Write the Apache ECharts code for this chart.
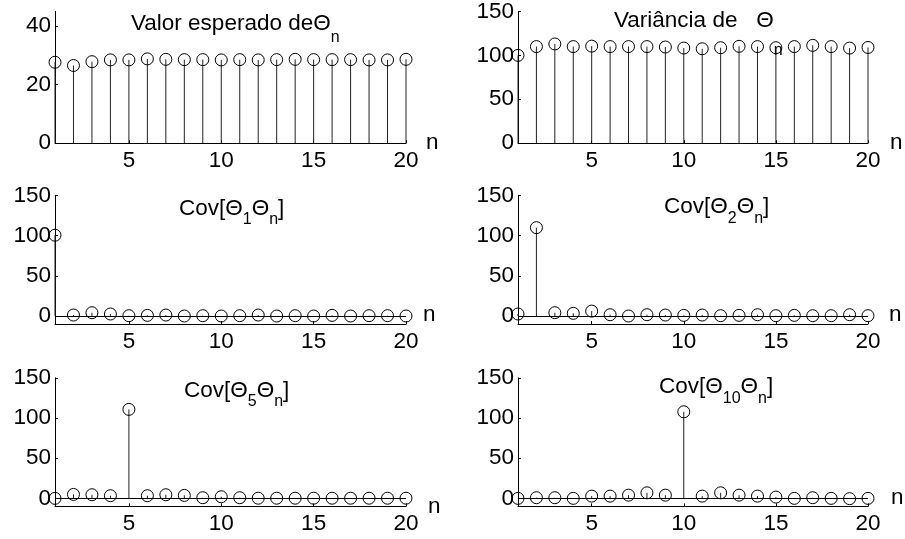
<!DOCTYPE html>
<html>
<head>
<meta charset="utf-8">
<script src="https://cdn.jsdelivr.net/npm/echarts@6/dist/echarts.min.js"></script>
<style>
  html, body { margin: 0; padding: 0; background: #fff; }
  #chart { width: 905px; height: 539px; }
</style>
</head>
<body>
<div id="chart"></div>
<script>
// Sample index n = 1..20
const nValues = [1, 2, 3, 4, 5, 6, 7, 8, 9, 10, 11, 12, 13, 14, 15, 16, 17, 18, 19, 20];
const xTicks = [5, 10, 15, 20];

// Expected value of Theta_n
const meanTheta = [27.6, 26.5, 27.8, 28.4, 28.4, 28.75, 28.6, 28.5, 28.5, 28.4,
                   28.5, 28.4, 28.5, 28.6, 28.5, 28.5, 28.5, 28.4, 28.4, 28.6];
// Variance of Theta_n
const varTheta = [100, 110, 113, 110, 110.5, 110, 110, 110, 109.5, 108.3,
                  107.5, 108.7, 110.3, 110, 108.7, 110, 111.4, 110, 108.3, 109];
// Cov[Theta_k, Theta_n] for k = 1, 2, 5, 10
const cov1 = [100.4, 1.2, 4.1, 2.5, 0.4, 0.8, 1.2, 0, 0.4, 0,
              0.4, 1.2, 0, 0.4, 0, 0.8, 0, 0.4, 0.4, 0];
const cov2 = [2.5, 109.8, 4.1, 3.3, 6.1, 1.6, 0, 1.6, 1.2, 0.8,
              1.2, 0.4, 0.8, 1.6, 0.4, 0.8, 0.4, 0.4, 1.6, 0.4];
const cov5 = [0, 4.9, 4.5, 3.3, 110.7, 3.3, 4.5, 3.7, 0.8, 2,
              0.8, 0.2, 0.2, 0.2, 0.2, 0.2, 0.2, 0.2, 0.2, 0.2];
const cov10 = [0, 0.8, 0.8, 0, 2.8, 2.8, 4, 6.9, 4, 107.7,
               2.8, 6.9, 4, 2.8, 1.6, 0, 0.8, 0, -0.4, 0];

// Y tick labels
const yTicksMean = [0, 20, 40];
const yTicksCov = [0, 50, 100, 150];

const FONT = 'Liberation Sans, Arial, Helvetica, sans-serif';
const FS = 22.5;
const SUB = 16;

const panels = [
  { data: meanTheta, yMin: 0,   yMax: 45,  yTicks: yTicksMean, grid: { left: 55,  top: 11.3,  width: 351, height: 131.8 },
    nameGap: 20, raised: false,
    title: { x: 131, y: 12.5, text: '{m|Valor esperado deΘ}{s1|n}' } },
  { data: varTheta,  yMin: 0,   yMax: 150, yTicks: yTicksCov,  grid: { left: 518, top: 11.3,  width: 350, height: 131.8 },
    nameGap: 22, raised: false,
    title: { x: 614, y: 9,    text: '{m|Variância de   Θ}{s2|n}' } },
  { data: cov1,      yMin: -10, yMax: 150, yTicks: yTicksCov,  grid: { left: 55,  top: 195.3, width: 351, height: 128.75 },
    nameGap: 17, raised: true,
    title: { x: 179, y: 197,  text: '{m|Cov[Θ}{s|1}{m|Θ}{s|n}{m|]}' } },
  { data: cov2,      yMin: -10, yMax: 150, yTicks: yTicksCov,  grid: { left: 518, top: 195.3, width: 350, height: 128.75 },
    nameGap: 21, raised: true,
    title: { x: 664, y: 195.5, text: '{m|Cov[Θ}{s|2}{m|Θ}{s|n}{m|]}' } },
  { data: cov5,      yMin: -10, yMax: 150, yTicks: yTicksCov,  grid: { left: 55,  top: 377.8, width: 351, height: 128.6 },
    nameGap: 22, raised: false,
    title: { x: 184, y: 379,  text: '{m|Cov[Θ}{s|5}{m|Θ}{s|n}{m|]}' } },
  { data: cov10,     yMin: -10, yMax: 150, yTicks: yTicksCov,  grid: { left: 518, top: 377.8, width: 350, height: 128.6 },
    nameGap: 23, raised: true,
    title: { x: 659, y: 375.5, text: '{m|Cov[Θ}{s|10}{m|Θ}{s|n}{m|]}' } }
];

const rich = {
  m:  { fontFamily: FONT, fontSize: FS, lineHeight: FS, verticalAlign: 'top', color: '#000' },
  s:  { fontFamily: FONT, fontSize: SUB, lineHeight: SUB, verticalAlign: 'top', color: '#000', padding: [15, 0, 0, 0] },
  s1: { fontFamily: FONT, fontSize: SUB, lineHeight: SUB, verticalAlign: 'top', color: '#000', padding: [17, 0, 0, 0] },
  s2: { fontFamily: FONT, fontSize: SUB, lineHeight: SUB, verticalAlign: 'top', color: '#000', padding: [34, 0, 0, 0] }
};

const grids = [], xAxes = [], yAxes = [], series = [], graphics = [];

panels.forEach((p, i) => {
  grids.push(Object.assign({ containLabel: false }, p.grid));

  // axis name "n": either centred on the axis line or lifted to the zero baseline
  const nameStyle = p.raised
    ? { fontFamily: FONT, fontSize: FS, color: '#000', verticalAlign: 'bottom', lineHeight: 18 }
    : { fontFamily: FONT, fontSize: FS, color: '#000', verticalAlign: 'middle' };

  xAxes.push({
    type: 'value', gridIndex: i, min: 1, max: 20,
    name: 'n', nameLocation: 'end', nameGap: p.nameGap,
    nameTextStyle: nameStyle,
    axisLine: { show: true, onZero: false, lineStyle: { color: '#000', width: 1 } },
    axisTick: { show: true, inside: true, length: 3, customValues: xTicks, lineStyle: { color: '#000' } },
    axisLabel: { show: true, customValues: xTicks, margin: 6, fontFamily: FONT, fontSize: FS, color: '#000' },
    splitLine: { show: false }
  });

  yAxes.push({
    type: 'value', gridIndex: i, min: p.yMin, max: p.yMax,
    axisLine: { show: true, lineStyle: { color: '#000', width: 1 } },
    axisTick: { show: true, inside: true, length: 3, customValues: p.yTicks, lineStyle: { color: '#000' } },
    axisLabel: { show: true, customValues: p.yTicks, margin: 4, fontFamily: FONT, fontSize: FS, color: '#000' },
    splitLine: { show: false }
  });

  const points = nValues.map((x, k) => [x, p.data[k]]);

  // Stems from the zero baseline up to each value
  series.push({
    type: 'custom', xAxisIndex: i, yAxisIndex: i, data: points, silent: true,
    renderItem: (params, api) => {
      const p0 = api.coord([api.value(0), 0]);
      const p1 = api.coord([api.value(0), api.value(1)]);
      return {
        type: 'line',
        shape: { x1: p0[0], y1: p0[1], x2: p1[0], y2: p1[1] },
        style: { stroke: '#222', lineWidth: 1 }
      };
    },
    z: 2
  });

  // Open circle markers, plus the stem baseline at zero
  series.push({
    type: 'scatter', xAxisIndex: i, yAxisIndex: i, data: points, silent: true,
    symbol: 'circle', symbolSize: 12, clip: false,
    itemStyle: { color: 'rgba(0,0,0,0)', borderColor: '#000', borderWidth: 1, opacity: 1 },
    markLine: {
      silent: true, symbol: ['none', 'none'], label: { show: false },
      lineStyle: { color: '#000', width: 1, type: 'solid' },
      emphasis: { disabled: true },
      data: [{ yAxis: 0 }]
    },
    z: 3
  });

  graphics.push({
    type: 'text', x: p.title.x, y: p.title.y, silent: true,
    style: { text: p.title.text, rich: rich, align: 'left', verticalAlign: 'top' }
  });
});

const chart = echarts.init(document.getElementById('chart'), null, { renderer: 'canvas' });
chart.setOption({
  backgroundColor: '#fff',
  animation: false,
  grid: grids,
  xAxis: xAxes,
  yAxis: yAxes,
  series: series,
  graphic: graphics
});
</script>
</body>
</html>
